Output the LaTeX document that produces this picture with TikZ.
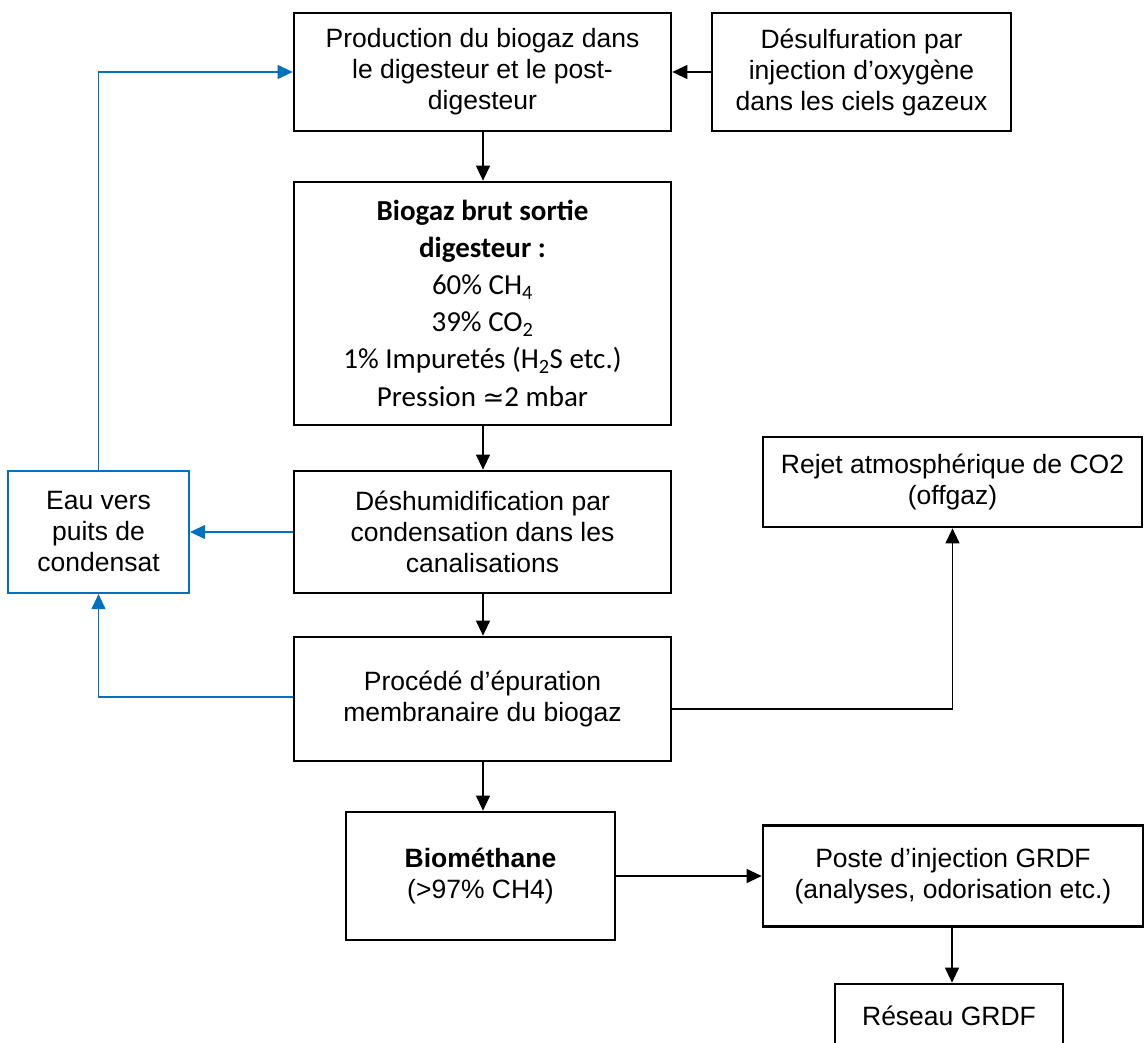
\documentclass[tikz,border=0pt]{standalone}
\usepackage{fontspec}
\setmainfont{Liberation Sans}
\newfontfamily\calfont{Carlito}
\newfontfamily\djv{DejaVu Sans}
\usetikzlibrary{arrows.meta}
\definecolor{wblue}{HTML}{0070C0}
\begin{document}
\begin{tikzpicture}[x=1pt,y=-1pt,
  box/.style={draw=black,line width=2.7pt,inner sep=0pt,align=center,
    font=\fontsize{26.5}{31}\selectfont},
  bluebox/.style={box,draw=wblue,line width=2.2pt},
  conn/.style={line width=1.1pt,-{Triangle[length=15pt,width=14pt]}},
  bconn/.style={conn,draw=wblue,-{Triangle[length=15pt,width=14pt,fill=wblue]}}]
\useasboundingbox[fill=white] (0,0) rectangle (1144,1043);
\clip (0,0) rectangle (1144,1043);
\node[box,minimum width=377pt,minimum height=118pt] (prod) at (482.5,72)
  {Production du biogaz dans\\le digesteur et le post-\\digesteur};
\node[box,minimum width=299pt,minimum height=118pt] (desulf) at (861.5,72)
  {Désulfuration par\\injection d’oxygène\\dans les ciels gazeux};
\node[box,minimum width=377pt,minimum height=243pt,
  font=\calfont\fontsize{29}{37}\selectfont] (biogaz) at (482.5,303.5)
  {\textbf{Biogaz brut sortie}\\\textbf{digesteur :}\\60\% CH\textsubscript{4}\\39\% CO\textsubscript{2}\\1\% Impuretés (H\textsubscript{2}S etc.)\\[1pt]Pression {\djv\fontsize{26}{30}\selectfont ≃}2 mbar};
\node[box,minimum width=377pt,minimum height=122pt] (deshum) at (482.5,532)
  {Déshumidification par\\condensation dans les\\canalisations};
\node[bluebox,minimum width=181pt,minimum height=122pt] (eau) at (98.5,532)
  {Eau vers\\puits de\\condensat};
\node[box,minimum width=377pt,minimum height=124pt] (epur) at (482.5,699)
  {Procédé d’épuration\\membranaire du biogaz};
\node[box,minimum width=379pt,minimum height=90pt] (rejet) at (952.5,482)
  {Rejet atmosphérique de CO2\\(offgaz)};
\node[box,minimum width=269pt,minimum height=128pt] (biometh) at (480.5,876)
  {\textbf{Biométhane}\\(>97\% CH4)};
\node[box,minimum width=380pt,minimum height=101pt] (poste) at (953,876)
  {Poste d’injection GRDF\\(analyses, odorisation etc.)};
\node[box,minimum width=228pt,minimum height=63pt] (reseau) at (949,1015.5)
  {Réseau GRDF};
\draw[conn] (prod.south -| 483,0) -- (biogaz.north -| 483,0);
\draw[conn] (desulf.west) -- (prod.east);
\draw[conn] (biogaz.south -| 483,0) -- (deshum.north -| 483,0);
\draw[conn] (deshum.south -| 483,0) -- (epur.north -| 483,0);
\draw[conn] (epur.south -| 483,0) -- (biometh.north -| 483,0);
\draw[conn] (biometh.east) -- (poste.west);
\draw[conn] (poste.south -| 952,0) -- (reseau.north -| 952,0);
\draw[conn] ([yshift=-10pt]epur.east) -| (rejet.south);
\draw[bconn] (deshum.west) -- (eau.east);
\draw[bconn] ([yshift=2pt]epur.west) -| (eau.south);
\draw[bconn] (eau.north) |- (prod.west);
\end{tikzpicture}
\end{document}
